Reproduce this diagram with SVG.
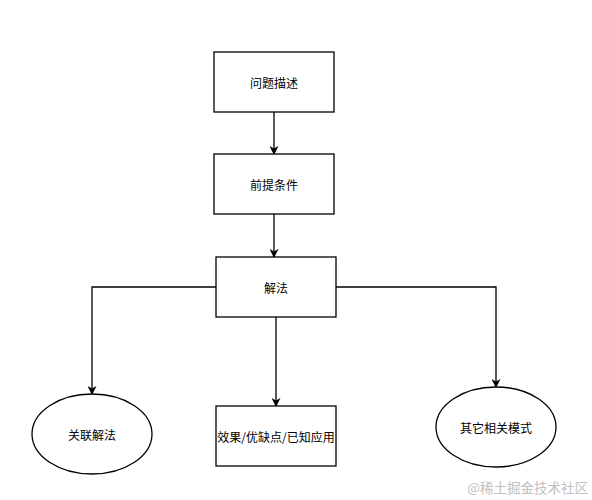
<svg xmlns="http://www.w3.org/2000/svg" width="592" height="500" viewBox="0 0 592 500">
<style>
.box{fill:#fff;stroke:#000;stroke-width:1.3}
.lbl{font-family:"Noto Sans CJK SC","Liberation Sans",sans-serif;font-size:12px;fill:#000;text-anchor:middle;dominant-baseline:central}
.edge{fill:none;stroke:#000;stroke-width:1.3}
.wm{font-family:"Noto Sans CJK SC","Liberation Sans",sans-serif;font-size:13.5px;fill:#c0c0c0;text-anchor:end}
</style>
<defs>
<marker id="arr" viewBox="0 0 10 10" refX="9" refY="5" markerWidth="9" markerHeight="9" markerUnits="userSpaceOnUse" orient="auto">
<path d="M0,0 L10,5 L0,10 L3,5 Z" fill="#000"/>
</marker>
</defs>
<rect width="592" height="500" fill="#fff"/>
<g id="connectors">
<path class="edge" d="M274,112 L274,154" marker-end="url(#arr)"/>
<path class="edge" d="M274,214 L274,257" marker-end="url(#arr)"/>
<path class="edge" d="M276,317 L276,406" marker-end="url(#arr)"/>
<path class="edge" d="M216,287 L92,287 L92,394" marker-end="url(#arr)"/>
<path class="edge" d="M336,287 L496,287 L496,387" marker-end="url(#arr)"/>
</g>
<g id="n1"><rect class="box" x="214" y="52" width="120" height="60"/><text class="lbl" x="274" y="82">问题描述</text></g>
<g id="n2"><rect class="box" x="214" y="154" width="120" height="60"/><text class="lbl" x="274" y="184">前提条件</text></g>
<g id="n3"><rect class="box" x="216" y="257" width="120" height="60"/><text class="lbl" x="276" y="287">解法</text></g>
<g id="n4"><rect class="box" x="216" y="406" width="120" height="60"/><text class="lbl" x="276" y="436">效果/优缺点/已知应用</text></g>
<g id="n5"><ellipse class="box" cx="92" cy="434" rx="60" ry="40"/><text class="lbl" x="92" y="434">关联解法</text></g>
<g id="n6"><ellipse class="box" cx="496" cy="427" rx="60" ry="40"/><text class="lbl" x="496" y="427">其它相关模式</text></g>
<text class="wm" x="588" y="493">@稀土掘金技术社区</text>
</svg>
